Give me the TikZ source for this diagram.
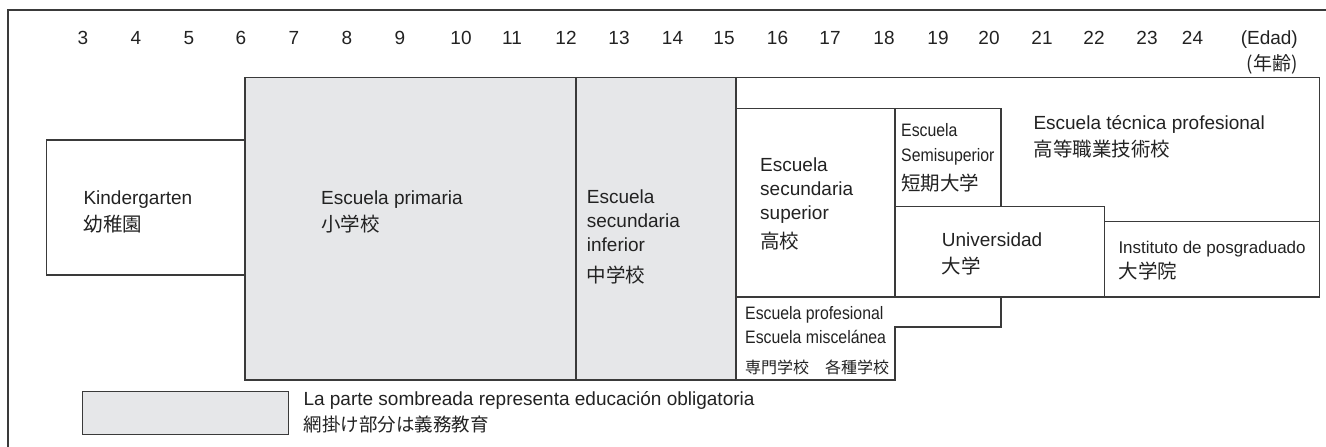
\documentclass[tikz,border=0pt]{standalone}
\usepackage{fontspec}
\setmainfont{Liberation Sans}
\newfontfamily\jpf{Noto Sans CJK JP}
\newfontfamily\narrowf[FakeStretch=0.88]{Liberation Sans}
\definecolor{shade}{HTML}{E6E7E9}
\definecolor{ink}{HTML}{3A3A3A}
\definecolor{txt}{HTML}{222222}
\begin{document}
\begin{tikzpicture}[x=1pt,y=-1pt,
  edge/.style={draw=ink,line width=1.3pt},
  shaded/.style={fill=shade,draw=ink,line width=1.3pt},
  num/.style={anchor=base,inner sep=0,text=txt,font=\fontsize{19}{22}\selectfont},
  lbl/.style={anchor=base west,inner sep=0,text=txt,font=\fontsize{19}{22}\selectfont},
  jlbl/.style={anchor=base west,inner sep=0,text=txt,font=\jpf\fontsize{19.5}{22}\selectfont},
  slbl/.style={anchor=base west,inner sep=0,text=txt,font=\narrowf\fontsize{18}{20}\selectfont},
  mlbl/.style={anchor=base west,inner sep=0,text=txt,font=\fontsize{17}{20}\selectfont},
  sjlbl/.style={anchor=base west,inner sep=0,text=txt,font=\jpf\fontsize{16}{20}\selectfont}]
\useasboundingbox (0,0) rectangle (1326,447);
% frame
\draw[edge] (8,447) -- (8,10) -- (1326,10);
% age scale
\foreach \a/\x in {3/83,4/136,5/189,6/241,7/294,8/347,9/400,10/461,11/512,12/566,13/619,14/672.5,15/724,16/777.5,17/830,18/884,19/938,20/989,21/1042,22/1094,23/1147,24/1192.5}
  \node[num] (age\a) at (\x,44) {\a};
\node[num,anchor=base east] (edad) at (1298,44) {(Edad)};
\node[num,anchor=base east,font=\jpf\fontsize{19}{22}\selectfont] (nenrei) at (1298,70.4) {(年齢)};
% shaded compulsory blocks
\draw[shaded] (245,77.3) rectangle (576,380);
\draw[shaded] (576,77.3) rectangle (736,380);
% kindergarten
\draw[edge] (46.7,140) rectangle (245,275);
% upper structure
\draw[edge] (736,77.3) -- (1319.3,77.3) -- (1319.3,297) -- (736,297);
\draw[edge] (736,108.3) -- (1001,108.3);
\draw[edge] (895,108.3) -- (895,297);
\draw[edge] (1001,108.3) -- (1001,206.5);
\draw[edge] (895,206.5) -- (1104.3,206.5) -- (1104.3,297);
\draw[edge] (1104.3,221.7) -- (1319.3,221.7);
% vocational
\draw[edge] (1001,297) -- (1001,327) -- (895,327) -- (895,380) -- (736,380);
% legend
\draw[shaded] (82.3,391.7) rectangle (288.7,434.3);
% labels
\node[lbl] (kinder) at (83.3,204.3) {Kindergarten};
\node[jlbl] (kinderj) at (83.3,231.4) {幼稚園};
\node[lbl] (prim) at (321,204.3) {Escuela primaria};
\node[jlbl] (primj) at (321,231.4) {小学校};
\node[lbl] (low1) at (586.7,203.8) {Escuela};
\node[lbl] (low2) at (586.7,227.5) {secundaria};
\node[lbl] (low3) at (586.7,251.7) {inferior};
\node[jlbl] (lowj) at (586.7,282) {中学校};
\node[lbl] (up1) at (760,171) {Escuela};
\node[lbl] (up2) at (760,195) {secundaria};
\node[lbl] (up3) at (760,219) {superior};
\node[jlbl] (upj) at (760,248.7) {高校};
\node[slbl] (semi1) at (901,136.7) {Escuela};
\node[slbl] (semi2) at (901,161.7) {Semisuperior};
\node[jlbl] (semij) at (901,190.5) {短期大学};
\node[lbl] (tec) at (1033.3,129.5) {Escuela técnica profesional};
\node[jlbl] (tecj) at (1033.3,156) {高等職業技術校};
\node[lbl] (univ) at (941.7,246.7) {Universidad};
\node[jlbl] (univj) at (941.7,273.7) {大学};
\node[mlbl] (grad) at (1118.3,253.3) {Instituto de posgraduado};
\node[jlbl] (gradj) at (1118.3,278.7) {大学院};
\node[slbl] (voc1) at (745,319.3) {Escuela profesional};
\node[slbl] (voc2) at (745,343.3) {Escuela miscelánea};
\node[sjlbl] (vocj) at (745,373.9) {専門学校　各種学校};
\node[lbl] (leg1) at (303.3,405) {La parte sombreada representa educación obligatoria};
\node[jlbl,font=\jpf\fontsize{18.5}{22}\selectfont] (legj) at (303.3,431.7) {網掛け部分は義務教育};
\end{tikzpicture}
\end{document}
